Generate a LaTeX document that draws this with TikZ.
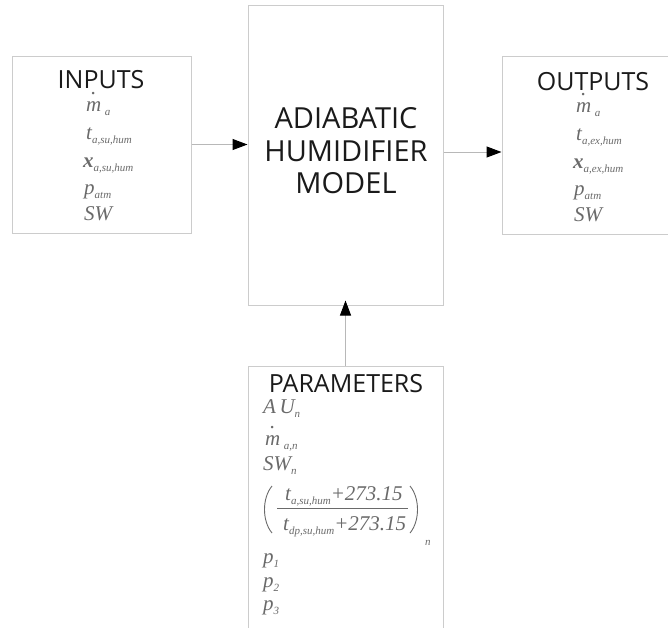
\documentclass[tikz,border=0pt]{standalone}
\usepackage{fontspec}
\setmainfont{Liberation Serif}
\newfontfamily\headfont{Open Sans}
\usetikzlibrary{arrows.meta}
\definecolor{boxgray}{HTML}{CCCCCC}
\definecolor{linegray}{HTML}{B8B8B8}
\definecolor{mathgray}{HTML}{6A6A6A}
\definecolor{headblack}{HTML}{1A1A1A}
\newcommand{\mysub}[1]{\raisebox{-0.5ex}{\fontsize{11}{11}\selectfont\itshape #1}}
\newcommand{\mydotm}{\makebox[0pt][l]{\kern5pt\raisebox{17pt}{.}}m}
\begin{document}
\begin{tikzpicture}[x=1pt,y=-1pt,
  blk/.style={draw=boxgray,line width=1pt,rectangle,inner sep=0pt},
  head/.style={font=\headfont\fontsize{25}{25}\selectfont,text=headblack,inner sep=0pt},
  main/.style={font=\headfont\fontsize{29}{32.5}\selectfont,text=headblack,align=center,inner sep=0pt},
  item/.style={font=\fontsize{21}{21}\selectfont\itshape,text=mathgray,anchor=base west,inner sep=0pt},
  conn/.style={draw=linegray,line width=1pt,-{Triangle[length=15pt,width=11pt,color=black]}}
]
\useasboundingbox (0,0) rectangle (668,627);
% boxes
\node[blk,minimum width=179pt,minimum height=177pt] (inputs) at (101.5,144.5) {};
\node[blk,minimum width=195pt,minimum height=300pt] (model) at (345.5,155) {};
\node[blk,minimum width=178pt,minimum height=178pt] (outputs) at (591,145) {};
\node[blk,minimum width=195pt,minimum height=280pt] (params) at (345.5,506) {};
% inputs text
\node[head] (inh) at (101,80) {INPUTS};
\node[item] (in1) at (86,111) {\mydotm\,\mysub{a}};
\node[item] (in2) at (86,139) {t\mysub{a,su,hum}};
\node[item] (in3) at (83,167) {\textbf{x}\mysub{a,su,hum}};
\node[item] (in4) at (84,194) {p\mysub{atm}};
\node[item] (in5) at (84,220) {SW};
% outputs text
\node[head] (outh) at (593,82) {OUTPUTS};
\node[item] (out1) at (576,112) {\mydotm\,\mysub{a}};
\node[item] (out2) at (576,140) {t\mysub{a,ex,hum}};
\node[item] (out3) at (573,168) {\textbf{x}\mysub{a,ex,hum}};
\node[item] (out4) at (574,195) {p\mysub{atm}};
\node[item] (out5) at (574,221) {SW};
% model text
\node[main] (mt) at (346,151) {ADIABATIC\\HUMIDIFIER\\MODEL};
% parameters text
\node[head] (ph) at (346,384) {PARAMETERS};
\node[item] (p1) at (263,413) {A\,U\mysub{n}};
\node[item] (p2) at (265,445) {\mydotm\,\mysub{a,n}};
\node[item] (p3) at (263,470) {SW\mysub{n}};
\node[item] (pnum) at (285,500) {t\mysub{a,su,hum}+273.15};
\node[item] (pden) at (283,530) {t\mysub{dp,su,hum}+273.15};
\node[item] (pn) at (425,541) {\mysub{n}};
\node[item] (p5) at (263,563) {p\mysub{1}};
\node[item] (p6) at (263,587) {p\mysub{2}};
\node[item] (p7) at (263,610) {p\mysub{3}};
% fraction bar and parentheses
\draw[mathgray,line width=0.8pt] (277,508.5) -- (408,508.5);
\draw[mathgray,line width=0.9pt] (272,486) .. controls (262,498) and (262,521) .. (272,533);
\draw[mathgray,line width=0.9pt] (410,486) .. controls (420,498) and (420,521) .. (410,533);
% connectors
\draw[conn] (inputs.east) -- (inputs.east -| model.west);
\draw[conn] ([yshift=3pt]model.east) -- ([yshift=3pt]model.east -| outputs.west);
\draw[conn] (params.north) -- ([yshift=5pt]params.north |- model.south);
\end{tikzpicture}
\end{document}
